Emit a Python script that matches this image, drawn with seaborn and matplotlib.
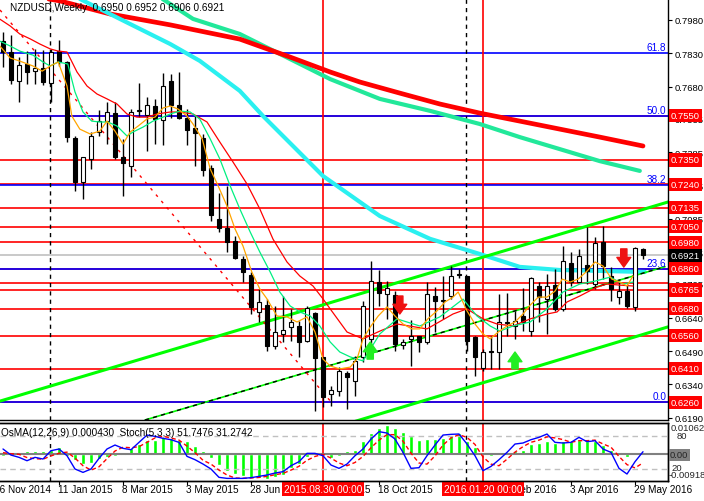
import numpy as np
import matplotlib
matplotlib.use("Agg")
import matplotlib.pyplot as plt
import seaborn as sns

sns.set_style("white")
plt.rcParams["font.family"] = ["Liberation Sans", "DejaVu Sans"]

# ==============================
# Weekly NZDUSD candles (bar 1 = 23 Nov 2014 ... bar 81 = 5 Jun 2016)
# ==============================

week = np.arange(1, 82)

open_ = [0.7887, 0.7837, 0.7707, 0.7782, 0.7749, 0.7763, 0.7695, 0.7842, 0.7790, 0.7449,
         0.7250, 0.7355, 0.7475, 0.7524, 0.7560, 0.7362, 0.7324, 0.7569, 0.7554, 0.7592,
         0.7531, 0.7704, 0.7598, 0.7538, 0.7493, 0.7449, 0.7314, 0.7085, 0.7045, 0.6987,
         0.6905, 0.6833, 0.6667, 0.6698, 0.6514, 0.6566, 0.6600, 0.6604, 0.6537, 0.6660,
         0.6462, 0.6297, 0.6309, 0.6392, 0.6357, 0.6462, 0.6545, 0.6800, 0.6747, 0.6743,
         0.6518, 0.6545, 0.6557, 0.6530, 0.6737, 0.6714, 0.6737, 0.6838, 0.6827, 0.6552,
         0.6413, 0.6491, 0.6485, 0.6615, 0.6604, 0.6649, 0.6582, 0.6782, 0.6725, 0.6788,
         0.6680, 0.6885, 0.6802, 0.6879, 0.6792, 0.6981, 0.6828, 0.6734, 0.6762, 0.6687,
         0.6950]
high = [0.7927, 0.7913, 0.7812, 0.7842, 0.7850, 0.7846, 0.7850, 0.7891, 0.7797, 0.7458,
        0.7364, 0.7476, 0.7576, 0.7610, 0.7610, 0.7445, 0.7580, 0.7695, 0.7632, 0.7625,
        0.7740, 0.7737, 0.7745, 0.7580, 0.7549, 0.7467, 0.7328, 0.7202, 0.7234, 0.7009,
        0.6919, 0.6845, 0.6770, 0.6725, 0.6692, 0.6739, 0.6680, 0.6627, 0.6694, 0.6665,
        0.6463, 0.6334, 0.6417, 0.6402, 0.6469, 0.6717, 0.6897, 0.6856, 0.6807, 0.6762,
        0.6545, 0.6631, 0.6559, 0.6800, 0.6777, 0.6829, 0.6874, 0.6860, 0.6829, 0.6559,
        0.6500, 0.6559, 0.6747, 0.6752, 0.6672, 0.6773, 0.6825, 0.6800, 0.6837, 0.6860,
        0.6962, 0.6935, 0.6950, 0.7047, 0.7004, 0.7053, 0.6869, 0.6800, 0.6792, 0.6957,
        0.6952]
low = [0.7767, 0.7692, 0.7610, 0.7692, 0.7692, 0.7688, 0.7610, 0.7774, 0.7430, 0.7212,
       0.7175, 0.7310, 0.7459, 0.7422, 0.7355, 0.7187, 0.7272, 0.7542, 0.7389, 0.7422,
       0.7418, 0.7538, 0.7535, 0.7418, 0.7324, 0.7279, 0.7077, 0.7025, 0.6937, 0.6905,
       0.6802, 0.6657, 0.6620, 0.6492, 0.6500, 0.6530, 0.6537, 0.6462, 0.6530, 0.6222,
       0.6239, 0.6244, 0.6289, 0.6230, 0.6289, 0.6442, 0.6500, 0.6694, 0.6635, 0.6492,
       0.6500, 0.6424, 0.6485, 0.6522, 0.6575, 0.6635, 0.6725, 0.6818, 0.6491, 0.6379,
       0.6400, 0.6410, 0.6410, 0.6559, 0.6545, 0.6582, 0.6559, 0.6620, 0.6567, 0.6671,
       0.6671, 0.6784, 0.6800, 0.6792, 0.6770, 0.6815, 0.6716, 0.6702, 0.6684, 0.6672,
       0.6906]
close = [0.7837, 0.7710, 0.7778, 0.7745, 0.7763, 0.7700, 0.7835, 0.7790, 0.7452, 0.7252,
         0.7362, 0.7457, 0.7524, 0.7565, 0.7362, 0.7337, 0.7565, 0.7576, 0.7598, 0.7535,
         0.7684, 0.7599, 0.7538, 0.7486, 0.7472, 0.7305, 0.7104, 0.7043, 0.6982, 0.6908,
         0.6845, 0.6687, 0.6712, 0.6514, 0.6575, 0.6586, 0.6620, 0.6532, 0.6683, 0.6458,
         0.6284, 0.6316, 0.6399, 0.6375, 0.6447, 0.6692, 0.6804, 0.6752, 0.6773, 0.6522,
         0.6532, 0.6559, 0.6530, 0.6747, 0.6714, 0.6721, 0.6827, 0.6833, 0.6537, 0.6462,
         0.6485, 0.6485, 0.6622, 0.6622, 0.6627, 0.6622, 0.6818, 0.6732, 0.6784, 0.6680,
         0.6897, 0.6800, 0.6917, 0.6852, 0.6977, 0.6873, 0.6770, 0.6761, 0.6694, 0.6953,
         0.6921]

# ==============================
# Moving averages (at sparse bars)
# ==============================

fast_x = [0.6, 1.9, 3.1, 4.75, 5.9, 6.9, 7.9, 9.0, 9.6, 10.6, 11.9, 13.1, 14.0, 15.0, 16.0,
          16.9, 17.9, 19.0, 20.0, 21.0, 21.9, 22.9, 24.0, 24.75, 25.9, 26.9, 27.9, 29.0, 30.0,
          31.0, 32.1, 33.1, 34.0, 35.25, 36.5, 37.75, 39.0, 40.0, 41.0, 41.9, 43.1, 44.4, 45.25,
          46.0, 46.9, 47.9, 49.0, 50.0, 51.0, 52.1, 53.1, 54.1, 55.25, 56.25, 57.25, 57.9, 59.0,
          60.0, 61.0, 61.9, 62.9, 64.0, 65.0, 66.0, 66.9, 67.9, 69.0, 70.0, 70.9, 71.9, 72.9,
          74.0, 75.0, 76.0, 77.1, 78.1, 79.0, 79.75]
fast_y = [0.7863, 0.7809, 0.7795, 0.7773, 0.7750, 0.7773, 0.7791, 0.7683, 0.7548, 0.7489,
          0.7467, 0.7480, 0.7525, 0.7480, 0.7422, 0.7476, 0.7503, 0.7535, 0.7543, 0.7584,
          0.7593, 0.7579, 0.7548, 0.7512, 0.7445, 0.7310, 0.7233, 0.7143, 0.7040, 0.6963,
          0.6846, 0.6770, 0.6725, 0.6648, 0.6644, 0.6621, 0.6644, 0.6576, 0.6454, 0.6423,
          0.6410, 0.6418, 0.6454, 0.6545, 0.6598, 0.6648, 0.6689, 0.6648, 0.6612, 0.6590,
          0.6590, 0.6635, 0.6671, 0.6711, 0.6733, 0.6756, 0.6671, 0.6612, 0.6567, 0.6545,
          0.6576, 0.6603, 0.6621, 0.6657, 0.6697, 0.6733, 0.6733, 0.6760, 0.6814, 0.6801,
          0.6814, 0.6850, 0.6891, 0.6873, 0.6814, 0.6801, 0.6783, 0.6828]

mid_x = [0.6, 1.9, 3.1, 4.75, 6.0, 6.9, 7.9, 9.1, 10.0, 11.0, 12.1, 13.1, 14.1, 15.25, 16.5,
         17.25, 18.5, 19.75, 21.0, 21.9, 23.1, 24.4, 25.6, 26.9, 28.1, 29.4, 30.6, 31.9, 33.1,
         34.4, 35.6, 36.9, 38.1, 39.4, 40.6, 41.9, 43.1, 44.4, 45.25, 46.0, 48.1, 50.25, 53.1,
         55.6, 58.5, 60.25, 61.9, 63.1, 64.75, 66.9, 69.0, 71.0, 73.1, 75.0, 76.9, 78.5, 79.75]
mid_y = [0.7885, 0.7863, 0.7840, 0.7822, 0.7791, 0.7773, 0.7791, 0.7782, 0.7656, 0.7566,
         0.7525, 0.7521, 0.7521, 0.7503, 0.7458, 0.7476, 0.7498, 0.7525, 0.7543, 0.7557,
         0.7570, 0.7566, 0.7534, 0.7445, 0.7355, 0.7233, 0.7130, 0.7026, 0.6936, 0.6846,
         0.6756, 0.6693, 0.6666, 0.6648, 0.6603, 0.6531, 0.6486, 0.6464, 0.6454, 0.6446,
         0.6567, 0.6635, 0.6603, 0.6644, 0.6724, 0.6648, 0.6603, 0.6580, 0.6603, 0.6621,
         0.6680, 0.6756, 0.6792, 0.6805, 0.6823, 0.6792, 0.6801]

slow_x = [0.6, 1.9, 3.1, 4.4, 5.6, 6.9, 7.9, 9.0, 10.25, 11.5, 12.75, 14.0, 15.25, 16.5, 17.75,
          19.0, 20.25, 21.9, 23.1, 24.75, 26.5, 28.1, 29.75, 31.5, 33.1, 34.75, 36.5, 38.1,
          39.75, 41.0, 41.9, 44.0, 46.0, 48.1, 50.25, 54.0, 57.25, 59.0, 61.0, 62.75, 64.75,
          66.9, 69.0, 70.25, 71.5, 73.1, 75.25, 76.5, 78.1, 79.75]
slow_y = [0.7984, 0.7953, 0.7917, 0.7895, 0.7872, 0.7850, 0.7840, 0.7836, 0.7746, 0.7683,
          0.7647, 0.7625, 0.7602, 0.7557, 0.7543, 0.7543, 0.7557, 0.7566, 0.7566, 0.7557,
          0.7521, 0.7431, 0.7341, 0.7242, 0.7130, 0.6994, 0.6891, 0.6828, 0.6783, 0.6725,
          0.6680, 0.6576, 0.6545, 0.6580, 0.6612, 0.6590, 0.6657, 0.6680, 0.6635, 0.6612,
          0.6603, 0.6635, 0.6657, 0.6666, 0.6711, 0.6738, 0.6778, 0.6792, 0.6787, 0.6783]

long_red_x = [3.1, 8.1, 14.4, 21.9, 30.6, 36.9, 41.9, 45.6, 50.6, 55.6, 60.6, 65.6, 70.6, 75.6, 81.0]
long_red_y = [0.8097, 0.8066, 0.8007, 0.7958, 0.7894, 0.7813, 0.7746, 0.7701, 0.7651, 0.7602,
              0.7561, 0.7525, 0.7489, 0.7453, 0.7413]
long_green_x = [19.4, 21.9, 24.75, 30.6, 36.9, 41.9, 48.1, 54.4, 60.6, 65.6, 70.6, 75.6, 80.6]
long_green_y = [0.8111, 0.8052, 0.7985, 0.7917, 0.7804, 0.7714, 0.7625, 0.7571, 0.7512, 0.7453,
                0.7399, 0.7345, 0.7301]
long_cyan_x = [8.1, 10.6, 15.6, 21.9, 25.6, 30.6, 33.5, 41.0, 48.1, 54.4, 60.6, 65.6, 70.6, 75.6, 81.25]
long_cyan_y = [0.8120, 0.8075, 0.7985, 0.7872, 0.7796, 0.7661, 0.7548, 0.7278, 0.7098, 0.6995,
               0.6927, 0.6869, 0.6855, 0.6851, 0.6846]

# trend lines / channel (end points)
trend_red_x = [0.625, 41.9]
trend_red_y = [0.8025, 0.6266]
support_x = [18.75, 83.75]
support_y = [0.6180, 0.6870]
channel_up_x = [0.625, 84.125]
channel_up_y = [0.6265, 0.7161]
channel_lo_x = [43.1, 84.125]
channel_lo_y = [0.6153, 0.6599]

# levels
red_levels = [0.7550, 0.7350, 0.7240, 0.7135, 0.7050, 0.6980, 0.6860, 0.6795, 0.6765,
              0.6680, 0.6560, 0.6410, 0.6260]
box_levels = [0.7550, 0.7350, 0.7240, 0.7135, 0.7050, 0.6980, 0.6860, 0.6765,
              0.6680, 0.6560, 0.6410, 0.6260]
fib_levels = [0.7832, 0.7547, 0.7238, 0.6858, 0.6260]
fib_labels = ["61.8", "50.0", "38.2", "23.6", "0.0"]
price_ticks = [0.7980, 0.7830, 0.7680, 0.7535, 0.7385, 0.7235, 0.7085, 0.6935, 0.6795,
               0.6640, 0.6490, 0.6340, 0.6190]
last_price = 0.6921

up_arrows = [(46.9, 0.6454, 0.6531), (65.0, 0.6410, 0.6486)]
down_arrows = [(50.6, 0.6738, 0.6657), (78.6, 0.6950, 0.6868)]

date_ticks = [0, 8, 16, 24, 32, 40, 48, 56, 64, 72, 80]
date_labels = ["16 Nov 2014", "11 Jan 2015", "8 Mar 2015", "3 May 2015", "28 Jun 2015",
               "23 Aug 2015", "18 Oct 2015", "13 Dec 2015", "7 Feb 2016", "3 Apr 2016",
               "29 May 2016"]

# ==============================
# Indicator window: OsMA + Stochastic
# ==============================

osma = [-0.00048, -0.00036, 0.00024, 0.00097, 0.00097, 0.00121, 0.00157, 0.00242, -0.00061, -0.00206,
        -0.00351, -0.00290, -0.00169, -0.00097, -0.00048, -0.00036, 0.00194, 0.00339, 0.00484, 0.00484,
        0.00581, 0.00557, 0.00484, 0.00436, 0.00278, 0.00121, -0.00145, -0.00387, -0.00569, -0.00690,
        -0.00750, -0.00811, -0.00811, -0.00847, -0.00774, -0.00726, -0.00484, -0.00327, -0.00085, -0.00036,
        -0.00012, -0.00121, -0.00048, 0.00097, 0.00157, 0.00436, 0.00726, 0.00883, 0.01004, 0.00883,
        0.00762, 0.00617, 0.00484, 0.00508, 0.00508, 0.00557, 0.00641, 0.00726, 0.00460, 0.00242,
        0.00073, -0.00061, 0.00005, 0.00024, 0.00097, 0.00157, 0.00339, 0.00363, 0.00436, 0.00363,
        0.00436, 0.00436, 0.00484, 0.00436, 0.00436, 0.00315, 0.00157, 0.00073, -0.00097, 0.00048,
        0.00043]
stoch_main = [56.7, 45.6, 41.4, 35.2, 41.4, 38.3, 53.6, 56.7, 44.4, 20.0,
              13.8, 20.0, 39.5, 56.7, 64.0, 57.9, 55.4, 68.9, 82.3, 79.9,
              76.2, 73.8, 68.9, 43.2, 37.1, 29.1, 20.0, 4.7, 2.8, 2.8,
              2.8, 4.1, 6.5, 9.0, 12.6, 15.1, 26.1, 33.4, 48.7, 48.7,
              44.4, 27.3, 21.2, 29.1, 44.4, 56.7, 75.0, 88.5, 86.0, 75.0,
              50.5, 21.2, 22.4, 44.4, 64.0, 82.3, 83.6, 84.2, 65.8, 44.4,
              16.9, 24.8, 37.1, 50.5, 65.8, 67.7, 73.8, 78.1, 84.2, 68.9,
              67.7, 68.9, 78.1, 70.1, 71.9, 56.7, 50.5, 21.2, 10.8, 33.4,
              51.7]
stoch_signal = [50, 48, 47, 41, 39, 38, 44, 49, 51, 40,
                26, 18, 24, 39, 53, 60, 59, 61, 69, 77,
                80, 77, 73, 62, 50, 36, 29, 18, 9, 3.5,
                3, 3.5, 4.5, 6.5, 9.5, 12, 18, 25, 36, 43,
                47, 40, 31, 26, 32, 43, 59, 73, 83, 83,
                71, 49, 31, 29, 44, 64, 77, 83, 78, 65,
                42, 29, 26, 38, 51, 61, 69, 73, 79, 77,
                74, 69, 72, 72, 73, 66, 60, 43, 28, 22,
                31.3]

# ==============================
# Figure
# ==============================

W, H = 704, 502
FS = 6.8
fig = plt.figure(figsize=(W / 100, H / 100), dpi=100)
fig.patch.set_facecolor("white")

ax = fig.add_axes([0, (H - 421) / H, 668 / W, 421 / H])
ax2 = fig.add_axes([0, (H - 482) / H, 668 / W, 58 / H])

XMIN, XMAX = 0.625, 84.125
ax.set_xlim(XMIN, XMAX)
ax.set_ylim(0.6180, 0.80745)

# horizontal levels
for lv in red_levels:
    ax.axhline(lv, color="#ff0000", lw=1.2, zorder=1)
for lv in fib_levels:
    ax.axhline(lv, color="#0000ff", lw=1.2, zorder=1.1)
ax.axhline(last_price, color="#c0c0c0", lw=1.2, zorder=1)

# vertical lines
for a in (ax, ax2):
    a.axvline(41, color="#ff0000", lw=1.2, zorder=1.2)
    a.axvline(61, color="#ff0000", lw=1.2, zorder=1.2)
    a.axvline(6.875, color="black", lw=1, ls=(0, (3, 3)), zorder=1.2)
    a.axvline(58.875, color="black", lw=1, ls=(0, (3, 3)), zorder=1.2)

# long moving averages
sns.lineplot(x=long_green_x, y=long_green_y, ax=ax, color="#22e89a", linewidth=3.0,
             sort=False, estimator=None, zorder=1.5)
sns.lineplot(x=long_red_x, y=long_red_y, ax=ax, color="#ff0000", linewidth=3.4,
             sort=False, estimator=None, zorder=1.6)
sns.lineplot(x=long_cyan_x, y=long_cyan_y, ax=ax, color="#2af0f0", linewidth=3.0,
             sort=False, estimator=None, zorder=1.6)

# channel / trend lines
sns.lineplot(x=channel_up_x, y=channel_up_y, ax=ax, color="#00ff00", linewidth=2.2,
             sort=False, estimator=None, zorder=1.7)
sns.lineplot(x=channel_lo_x, y=channel_lo_y, ax=ax, color="#00ff00", linewidth=2.2,
             sort=False, estimator=None, zorder=1.7)
sns.lineplot(x=support_x, y=support_y, ax=ax, color="#00ff00", linewidth=1.2,
             sort=False, estimator=None, zorder=1.7)
sns.lineplot(x=support_x, y=support_y, ax=ax, color="black", linewidth=1.0,
             linestyle=(0, (3, 3)), sort=False, estimator=None, zorder=1.8)
sns.lineplot(x=trend_red_x, y=trend_red_y, ax=ax, color="#ff0000", linewidth=1.0,
             linestyle=(0, (2, 4)), sort=False, estimator=None, zorder=1.8)

# candles
o = np.array(open_)
c = np.array(close)
bottom = np.minimum(o, c)
height = np.maximum(np.abs(c - o), 0.00015)
face = np.where(c >= o, "white", "black")
ax.vlines(week, low, high, color="black", lw=1, zorder=3)
ax.bar(week, height, bottom=bottom, width=0.62, color=face, edgecolor="black",
       linewidth=0.8, zorder=4)

# fast moving averages
sns.lineplot(x=slow_x, y=slow_y, ax=ax, color="#ff0000", linewidth=0.9,
             sort=False, estimator=None, zorder=5)
sns.lineplot(x=mid_x, y=mid_y, ax=ax, color="#00f080", linewidth=0.9,
             sort=False, estimator=None, zorder=5)
sns.lineplot(x=fast_x, y=fast_y, ax=ax, color="#ffa500", linewidth=0.9,
             sort=False, estimator=None, zorder=5)

# signal arrows
for xk, tail, tip in up_arrows:
    ax.annotate("", xy=(xk, tip), xytext=(xk, tail), zorder=6,
                arrowprops=dict(arrowstyle="simple,head_length=0.7,head_width=1.0,tail_width=0.45",
                                color="#22ee22", shrinkA=0, shrinkB=0, mutation_scale=10))
for xk, tail, tip in down_arrows:
    ax.annotate("", xy=(xk, tip), xytext=(xk, tail), zorder=6,
                arrowprops=dict(arrowstyle="simple,head_length=0.7,head_width=1.0,tail_width=0.45",
                                color="#ee1111", shrinkA=0, shrinkB=0, mutation_scale=10))

# fibonacci labels
for lv, lab in zip(fib_levels, fib_labels):
    ax.text(83.9, lv + 0.0006, lab, color="#0000ff", fontsize=FS + 0.4, ha="right",
            va="bottom", zorder=7)

# header
ax.text(10 / 668, 1 - 8 / 421, "NZDUSD,Weekly  0.6950 0.6952 0.6906 0.6921",
        transform=ax.transAxes, fontsize=FS + 0.4, ha="left", va="center", color="black")

# right price scale
ax.yaxis.tick_right()
ax.set_yticks(price_ticks)
ax.set_yticklabels([f"{v:.4f}" for v in price_ticks])
ax.tick_params(axis="y", which="both", right=True, length=3, width=0.8, pad=2,
               labelsize=FS, colors="black")
ax.set_xticks([])
ax.set_xlabel("")
ax.set_ylabel("")
for lv in box_levels:
    ax.annotate(f"{lv:.4f}", xy=(1, lv), xycoords=ax.get_yaxis_transform(),
                xytext=(2.2, 0), textcoords="offset points", ha="left", va="center",
                color="white", fontsize=FS, zorder=10, annotation_clip=False,
                bbox=dict(boxstyle="square,pad=0.22", fc="#ff0000", ec="none"))
ax.annotate(f"{last_price:.4f}", xy=(1, last_price), xycoords=ax.get_yaxis_transform(),
            xytext=(2.2, 0), textcoords="offset points", ha="left", va="center",
            color="white", fontsize=FS, zorder=10, annotation_clip=False,
            bbox=dict(boxstyle="square,pad=0.22", fc="black", ec="none"))

for s in ("top", "left"):
    ax.spines[s].set_visible(False)
for s in ("right", "bottom"):
    ax.spines[s].set_color("black")
    ax.spines[s].set_linewidth(1)

# ---- indicator window ----
ax2.set_xlim(XMIN, XMAX)
ax2.set_ylim(-0.00918, 0.01062)
ax2.bar(week, osma, width=0.45, color="#00ff00", zorder=2)
ax2.axhline(0, color="#808080", lw=1.5, zorder=2.5)

ax3 = ax2.twinx()
ax3.set_xlim(XMIN, XMAX)
ax3.set_ylim(-2, 104.4)
ax3.axhline(80, color="#c0c0c0", lw=1, ls=(0, (4, 3)), zorder=1)
ax3.axhline(20, color="#c0c0c0", lw=1, ls=(0, (4, 3)), zorder=1)
sns.lineplot(x=week, y=stoch_signal, ax=ax3, color="#ff0000", linewidth=1.0,
             linestyle=(0, (3, 2)), sort=False, estimator=None, zorder=3)
sns.lineplot(x=week, y=stoch_main, ax=ax3, color="#0000ff", linewidth=1.0,
             sort=False, estimator=None, zorder=4)
ax3.set_yticks([])
ax3.set_ylabel("")
ax2.set_yticks([])
ax2.set_ylabel("")

ax2.set_xticks([t for t in date_ticks if XMIN <= t <= XMAX])
ax2.set_xticklabels([])
ax2.tick_params(axis="x", bottom=True, length=3, width=0.8, colors="black")
for t, lab in zip(date_ticks, date_labels):
    ax2.text(t - 0.1, -8 / 58, lab, transform=ax2.get_xaxis_transform(), ha="left",
             va="center", fontsize=FS + 0.4, color="black", clip_on=False)

for t, lab in ((41, "2015.08.30 00:00"), (61, "2016.01.20 00:00")):
    ax2.text(t, -8 / 58, lab, transform=ax2.get_xaxis_transform(), ha="center",
             va="center", fontsize=FS + 0.4, color="white", clip_on=False, zorder=10,
             bbox=dict(boxstyle="square,pad=0.2", fc="#ff0000", ec="none"))

for a in (ax2, ax3):
    a.spines["left"].set_visible(False)
    for s in ("top", "bottom", "right"):
        a.spines[s].set_color("black")
        a.spines[s].set_linewidth(1)

fig.text(1 / W, 1 - 433 / H, "OsMA(12,26,9) 0.000430  Stoch(5,3,3) 51.7476 31.2742",
         fontsize=FS + 0.4, ha="left", va="center", color="black")
fig.text(671 / W, 1 - 429 / H, "0.010620", fontsize=FS, ha="left", va="center")
fig.text(677 / W, 1 - 437 / H, "80", fontsize=FS, ha="left", va="center")
fig.text(670 / W, 1 - 456 / H, "0.00", fontsize=FS, ha="left", va="center",
         bbox=dict(boxstyle="square,pad=0.15", fc="#808080", ec="none"))
fig.text(671 / W, 1 - 469 / H, "20", fontsize=FS, ha="left", va="center")
fig.text(669 / W, 1 - 476 / H, "-0.00918", fontsize=FS, ha="left", va="center")

fig.savefig("out.png", dpi=100)
